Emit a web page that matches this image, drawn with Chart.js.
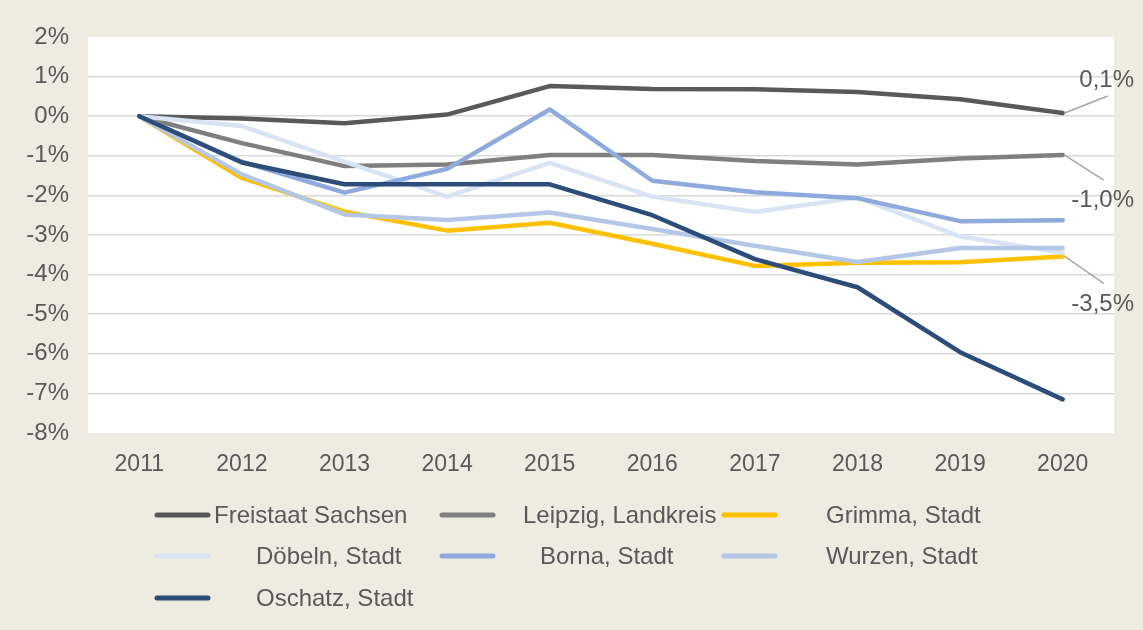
<!DOCTYPE html>
<html>
<head>
<meta charset="utf-8">
<script src="https://cdn.jsdelivr.net/npm/chart.js@4.4.1/dist/chart.umd.min.js"></script>
<style>
  html, body { margin: 0; padding: 0; background: #EEECE1; }
  #wrap { width: 1143px; height: 630px; }
</style>
</head>
<body>
<div id="wrap"><canvas id="chart" width="1143" height="630"></canvas></div>
<script>
// Data (percent change vs. 2011)
const years = ['2011', '2012', '2013', '2014', '2015', '2016', '2017', '2018', '2019', '2020'];
const freistaatSachsen = [0, -0.06, -0.18, 0.04, 0.76, 0.69, 0.68, 0.61, 0.43, 0.08];
const leipzigLandkreis = [0, -0.68, -1.26, -1.22, -0.98, -0.98, -1.13, -1.22, -1.07, -0.98];
const grimma = [0, -1.56, -2.41, -2.89, -2.69, -3.22, -3.78, -3.70, -3.69, -3.54];
const doebeln = [0, -0.25, -1.15, -2.03, -1.18, -2.03, -2.42, -2.05, -3.04, -3.45];
const borna = [0, -1.15, -1.93, -1.33, 0.17, -1.63, -1.92, -2.07, -2.65, -2.63];
const wurzen = [0, -1.47, -2.48, -2.62, -2.43, -2.85, -3.27, -3.68, -3.33, -3.33];
const oschatz = [0, -1.17, -1.72, -1.72, -1.72, -2.50, -3.61, -4.32, -5.96, -7.15];
const yTicks = [2, 1, 0, -1, -2, -3, -4, -5, -6, -7, -8];

const textColor = '#595959';
const font = 'Liberation Sans, Arial, sans-serif';

const series = [
  { label: 'Freistaat Sachsen', data: freistaatSachsen, color: '#595959' },
  { label: 'Leipzig, Landkreis', data: leipzigLandkreis, color: '#7F7F7F' },
  { label: 'Grimma, Stadt', data: grimma, color: '#FFC000' },
  { label: 'Döbeln, Stadt', data: doebeln, color: '#DAE3F3' },
  { label: 'Borna, Stadt', data: borna, color: '#8FAADC' },
  { label: 'Wurzen, Stadt', data: wurzen, color: '#B4C7E7' },
  { label: 'Oschatz, Stadt', data: oschatz, color: '#2C4D79' }
];

// white plot area
const plotBg = {
  id: 'plotBg',
  beforeDraw(chart) {
    const a = chart.chartArea, c = chart.ctx;
    c.save();
    c.fillStyle = '#ffffff';
    c.fillRect(a.left, a.top, a.right - a.left, a.bottom - a.top);
    c.restore();
  }
};

// end-of-line value labels with leader lines
const endLabels = [
  { ds: 0, lx: 45, ly: -17, tx: 44, ty: -33 },
  { ds: 1, lx: 41, ly: 25, tx: 40, ty: 45 },
  { ds: 2, lx: 41, ly: 27, tx: 40, ty: 48 }
];
const endLabelPlugin = {
  id: 'endLabels',
  afterDatasetsDraw(chart) {
    const c = chart.ctx;
    c.save();
    endLabels.forEach(l => {
      const meta = chart.getDatasetMeta(l.ds);
      const pt = meta.data[meta.data.length - 1];
      const v = chart.data.datasets[l.ds].data[meta.data.length - 1];
      c.strokeStyle = '#A6A6A6';
      c.lineWidth = 1.5;
      c.beginPath();
      c.moveTo(pt.x + 2, pt.y);
      c.lineTo(pt.x + l.lx, pt.y + l.ly);
      c.stroke();
      c.fillStyle = textColor;
      c.font = '24px ' + font;
      c.textAlign = 'center';
      c.textBaseline = 'middle';
      c.fillText(v.toFixed(1).replace('.', ',') + '%', pt.x + l.tx, pt.y + l.ty);
    });
    c.restore();
  }
};

// legend in a 3 column grid like the original
const legendCols = [155, 440, 722];
const legendRows = [515, 556, 598];
const legendTextX = [214, 523, 826, 256, 540, 826, 256];
const legendPlugin = {
  id: 'gridLegend',
  afterDraw(chart) {
    const c = chart.ctx;
    c.save();
    chart.data.datasets.forEach((ds, i) => {
      const x = legendCols[i % 3], y = legendRows[Math.floor(i / 3)];
      c.strokeStyle = ds.borderColor;
      c.lineWidth = 5;
      c.lineCap = 'round';
      c.beginPath();
      c.moveTo(x + 2, y);
      c.lineTo(x + 53, y);
      c.stroke();
      c.fillStyle = textColor;
      c.font = '24px ' + font;
      c.textAlign = 'left';
      c.textBaseline = 'middle';
      c.fillText(ds.label, legendTextX[i], y + 1);
    });
    c.restore();
  }
};

new Chart(document.getElementById('chart'), {
  type: 'line',
  data: {
    labels: years,
    datasets: series.map((s, i) => ({
      label: s.label,
      data: s.data,
      borderColor: s.color,
      backgroundColor: s.color,
      borderWidth: 4.5,
      borderCapStyle: 'round',
      borderJoinStyle: 'round',
      pointRadius: 0,
      tension: 0,
      order: series.length - i
    }))
  },
  options: {
    responsive: false,
    animation: false,
    layout: { padding: { top: 37, right: 29, left: 0, bottom: 0 } },
    plugins: {
      legend: { display: false },
      tooltip: { enabled: false }
    },
    scales: {
      x: {
        offset: true,
        grid: { display: false },
        border: { display: false },
        ticks: { color: textColor, font: { family: font, size: 23 }, padding: 10, maxRotation: 0 },
        afterFit(scale) { scale.height = 197; }
      },
      y: {
        min: -8,
        max: 2,
        afterBuildTicks(scale) { scale.ticks = yTicks.map(v => ({ value: v })); },
        grid: {
          drawTicks: false,
          lineWidth: 1.5,
          color: ctx => (ctx.tick && (ctx.tick.value === 2 || ctx.tick.value === -8)) ? 'rgba(0,0,0,0)' : '#D9D9D9'
        },
        border: { display: false },
        ticks: {
          color: textColor,
          font: { family: font, size: 24 },
          padding: 19,
          callback: v => v + '%'
        },
        afterFit(scale) { scale.width = 88; }
      }
    }
  },
  plugins: [plotBg, endLabelPlugin, legendPlugin]
});
</script>
</body>
</html>
